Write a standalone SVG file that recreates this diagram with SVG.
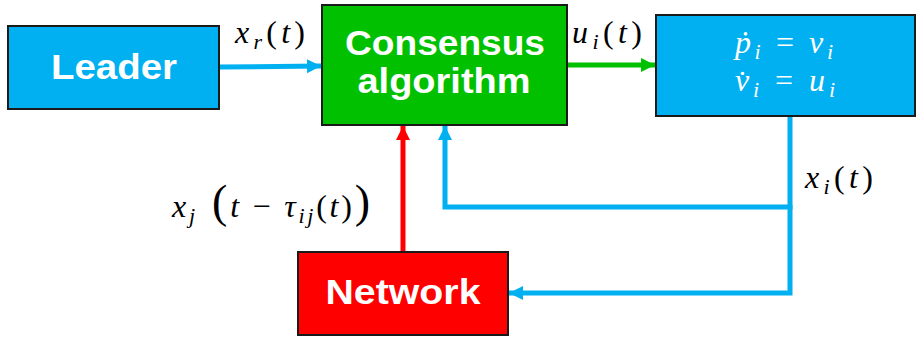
<svg xmlns="http://www.w3.org/2000/svg" width="918" height="338" viewBox="0 0 918 338">
<style>
.box{stroke:#1a1a1a;stroke-width:2}
.lbl{font-family:"Liberation Sans",Arial,sans-serif;font-weight:bold;fill:#fff;font-size:35px;text-anchor:middle}
.math{font-family:"Liberation Serif","DejaVu Serif",serif;font-style:italic;font-size:32px;fill:#000}
.up{font-style:normal}
.wm{fill:#fff}
.bl{stroke:#00B0F0;stroke-width:5;fill:none}
</style>
<defs>
<marker id="ab" markerUnits="userSpaceOnUse" markerWidth="16" markerHeight="16" refX="14" refY="8" orient="auto"><path d="M0,1 L14,8 L0,15 Z" fill="#00B0F0"/></marker>
<marker id="ag" markerUnits="userSpaceOnUse" markerWidth="16" markerHeight="16" refX="14" refY="8" orient="auto"><path d="M0,1 L14,8 L0,15 Z" fill="#00C000"/></marker>
<marker id="ar" markerUnits="userSpaceOnUse" markerWidth="16" markerHeight="16" refX="14" refY="8" orient="auto"><path d="M0,1 L14,8 L0,15 Z" fill="#FF0000"/></marker>
</defs>
<g id="connectors">
<line x1="219" y1="67" x2="321" y2="66" class="bl" marker-end="url(#ab)"/>
<line x1="567" y1="65" x2="655" y2="65" stroke="#00C000" stroke-width="5" marker-end="url(#ag)"/>
<line x1="403" y1="252" x2="403" y2="126" stroke="#FF0000" stroke-width="5" marker-end="url(#ar)"/>
<polyline points="790,116 790,207 445,207 445,126" class="bl" marker-end="url(#ab)"/>
<polyline points="790,205 790,293 509,293" class="bl" marker-end="url(#ab)"/>
</g>
<g id="leader">
<rect x="8" y="26" width="211" height="83" fill="#00B0F0" class="box"/>
<text x="114" y="79" class="lbl" textLength="126" lengthAdjust="spacingAndGlyphs">Leader</text>
</g>
<g id="consensus">
<rect x="322" y="5" width="245" height="120" fill="#00C000" class="box"/>
<text x="445" y="55" class="lbl" textLength="200" lengthAdjust="spacingAndGlyphs">Consensus</text>
<text x="444" y="93" class="lbl" textLength="173" lengthAdjust="spacingAndGlyphs">algorithm</text>
</g>
<g id="dynamics">
<rect x="656" y="15" width="259" height="101" fill="#00B0F0" class="box"/>
<text x="735" y="53" class="math wm" textLength="98" lengthAdjust="spacing">ṗ<tspan font-size="22" dy="6">i</tspan><tspan dy="-6" class="up"> = </tspan>v<tspan font-size="22" dy="6">i</tspan></text>
<text x="735" y="91" class="math wm" textLength="100" lengthAdjust="spacing">v̇<tspan font-size="22" dy="6">i</tspan><tspan dy="-6" class="up"> = </tspan>u<tspan font-size="22" dy="6">i</tspan></text>
</g>
<g id="network">
<rect x="298" y="252" width="210" height="83" fill="#FF0000" class="box"/>
<text x="403" y="304" class="lbl" textLength="155" lengthAdjust="spacingAndGlyphs">Network</text>
</g>
<g id="labels">
<text x="235" y="43" class="math" textLength="70" lengthAdjust="spacing">x<tspan font-size="22" dy="6">r</tspan><tspan dy="-6" class="up">(</tspan>t<tspan class="up">)</tspan></text>
<text x="572" y="43" class="math" textLength="70" lengthAdjust="spacing">u<tspan font-size="22" dy="6">i</tspan><tspan dy="-6" class="up">(</tspan>t<tspan class="up">)</tspan></text>
<text x="805" y="188" class="math" textLength="68" lengthAdjust="spacing">x<tspan font-size="22" dy="6">i</tspan><tspan dy="-6" class="up">(</tspan>t<tspan class="up">)</tspan></text>
<text x="172" y="217" class="math" textLength="198" lengthAdjust="spacing">x<tspan font-size="22" dy="6">j</tspan><tspan dy="-6" class="up" font-size="46"> (</tspan>t<tspan class="up"> − </tspan>τ<tspan font-size="22" dy="6">ij</tspan><tspan dy="-6" class="up">(</tspan>t<tspan class="up">)</tspan><tspan class="up" font-size="46">)</tspan></text>
</g>
</svg>
